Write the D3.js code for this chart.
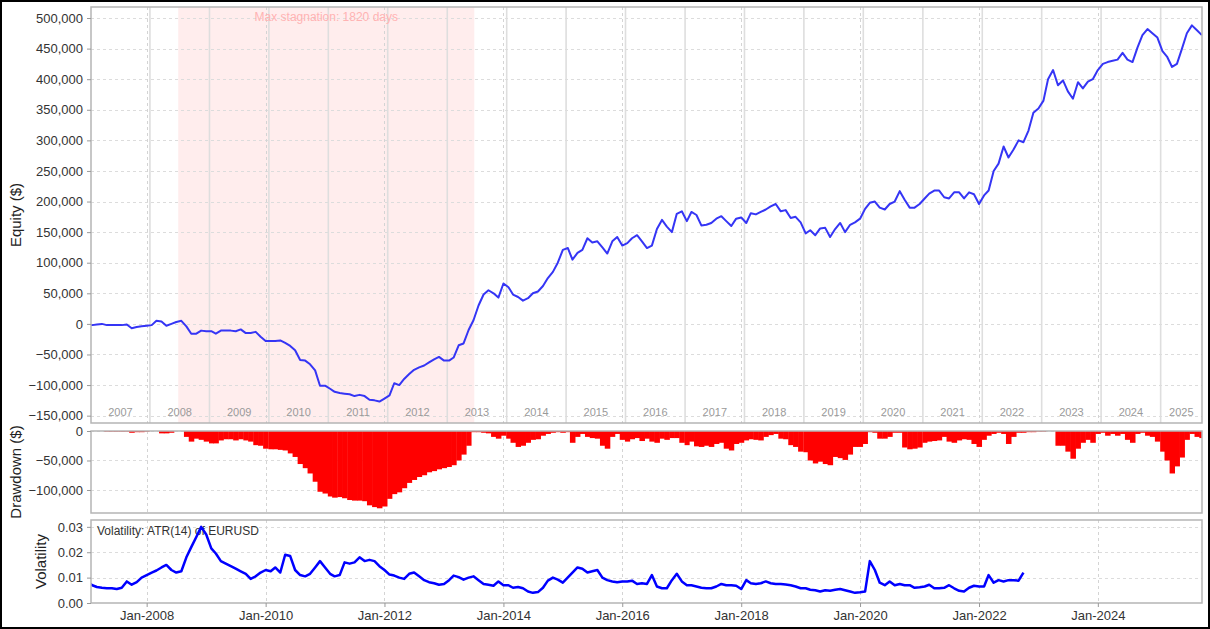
<!DOCTYPE html>
<html>
<head>
<meta charset="utf-8">
<script src="https://cdn.jsdelivr.net/npm/d3@7"></script>
<style>
body { margin: 0; background: #fff; }
svg { display: block; font-family: "Liberation Sans", Arial, sans-serif; }
</style>
</head>
<body>
<svg id="chart" width="1210" height="629"></svg>
<script>

// ---- data, monthly values starting Jan 2007 ----
// equity in thousands of $
var equityK = [
  -2, -2, -1, 0, -2, -2, -2, -2, -1, -7, -5, -4,
  -3, -2, 5, 4, -3, 0, 3, 5, -4, -16, -16, -11,
  -12, -12, -16, -11, -11, -11, -12, -9, -15, -15, -13, -21,
  -28, -28, -28, -27, -31, -36, -43, -59, -60, -66, -76, -101,
  -101, -106, -111, -113, -114, -115, -118, -116, -118, -124, -125, -127,
  -122, -117, -97, -100, -90, -82, -75, -71, -68, -63, -58, -54,
  -60, -60, -55, -35, -32, -10, 6, 30, 48, 55, 50, 43,
  66, 60, 48, 44, 38, 42, 50, 53, 62, 75, 85, 100,
  121, 124, 105, 116, 121, 140, 133, 135, 125, 115, 135, 142,
  128, 132, 140, 145, 135, 124, 128, 155, 170, 159, 150, 180,
  184, 168, 183, 178, 161, 162, 165, 172, 176, 168, 160, 172,
  174, 165, 181, 179, 183, 187, 192, 196, 184, 186, 173, 175,
  166, 148, 153, 145, 156, 157, 142, 155, 165, 150, 162, 166,
  172, 188, 198, 200, 190, 187, 196, 200, 217, 203, 190, 190,
  196, 205, 213, 218, 218, 207, 205, 215, 215, 205, 215, 212,
  196, 210, 218, 250, 262, 290, 272, 285, 300, 297, 316, 345,
  352, 365, 400, 415, 390, 398, 380, 368, 395, 385, 396, 400,
  415, 425, 428, 430, 432, 443, 432, 428, 452, 472, 482, 475,
  468, 446, 437, 420, 425, 450, 475, 488, 480, 472
];

// drawdown in thousands of $
var drawdownK = [
  0, 0, 0, 0, -1, -1, -1, -1, -1, -3, -2, -2,
  -1, 0, 0, -4, -4, -3, 0, 0, -10, -18, -13, -15,
  -18, -21, -21, -16, -14, -14, -16, -14, -16, -18, -24, -25,
  -30, -31, -31, -32, -33, -38, -44, -56, -63, -72, -86, -103,
  -106, -111, -113, -112, -114, -117, -118, -118, -119, -126, -129, -131,
  -128, -115, -107, -104, -97, -88, -83, -78, -75, -70, -68, -65,
  -63, -61, -58, -50, -40, -25, -2, -2, -3, -4, -10, -13,
  -8, -13, -20, -27, -25, -20, -15, -14, -8, -5, -3, -2,
  -3, -2, -20, -10, -5, -10, -12, -13, -25, -30, -10, -5,
  -15, -18, -14, -12, -17, -13, -18, -20, -13, -15, -12, -12,
  -20, -24, -18, -26, -27, -25, -27, -22, -20, -30, -33, -22,
  -20, -16, -14, -15, -16, -10, -7, -5, -13, -14, -24, -27,
  -35, -36, -50, -55, -52, -56, -58, -44, -46, -49, -40, -27,
  -27, -22, -2, -3, -13, -13, -10, -3, -3, -28, -31, -30,
  -28, -20, -18, -17, -16, -10, -18, -20, -16, -14, -15, -22,
  -27, -15, -8, -5, -3, -5, -22, -10, -3, -3, -2, -2,
  -1, -1, 0, 0, -25, -25, -35, -47, -30, -20, -15, -20,
  -5, -3, -8, -5, -8, -5, -15, -20, -5, -3, -8, -10,
  -18, -35, -50, -72, -60, -45, -15, -5, -10, -12
];

// ATR(14) of EURUSD, null = no data (gap drawn as a straight segment)
var volatility = [
  .0085, .0070, .0063, .0060, .0058, .0058, .0055, .0060, .0085, .0072, .0082, .0100,
  .0110, .0120, .0128, .0140, .0150, .0130, .0120, .0125, .0180, .0220, .0260, .0300,
  .0270, .0215, .0195, .0165, .0155, .0145, .0135, .0125, .0115, .0095, .0105, .0120,
  .0130, .0125, .0140, .0120, .0190, .0185, .0130, .0110, .0105, .0115, .0140, .0165,
  .0140, .0115, .0105, .0110, .0160, .0155, .0160, .0180, .0165, .0170, .0165, .0145,
  .0130, .0112, .0108, .0100, .0095, .0115, .0120, .0105, .0090, .0082, .0078, .0072,
  .0075, .0090, .0108, .0102, .0092, .0100, .0105, .0090, .0075, .0072, .0068, .0085,
  .0070, .0070, .0060, .0063, .0058, .0045, .0040, .0043, .0060, .0088, .0100, .0092,
  .0080, null, null, .0140, .0135, .0120, .0125, .0130, .0100, .0090, .0085, .0082,
  .0085, .0085, .0088, .0075, .0078, .0075, .0110, .0065, .0058, .0058, .0090, .0115,
  .0085, .0070, .0070, .0065, .0060, .0058, .0058, .0065, .0075, .0070, .0070, .0068,
  .0055, .0090, .0078, .0075, .0078, .0085, .0078, .0075, .0075, .0073, .0070, .0065,
  .0058, .0058, .0052, .0050, .0045, .0050, .0048, .0052, .0055, .0050, .0045, .0040,
  .0042, .0045, .0165, .0130, .0080, .0070, .0085, .0070, .0075, .0070, .0070, .0060,
  .0062, .0065, .0072, .0058, .0058, .0060, .0070, .0058, .0048, .0045, .0060, .0068,
  .0065, .0065, .0110, .0080, .0090, .0085, .0090, .0090, .0088, .0120
];

var years = d3.range(2007, 2026);
var equityTicks = [-150000, -100000, -50000, 0, 50000, 100000, 150000, 200000, 250000, 300000, 350000, 400000, 450000, 500000];
var drawdownTicks = [-100000, -50000, 0];
var volTicks = [0, 0.01, 0.02, 0.03];
var xTickLabels = ["Jan-2008", "Jan-2010", "Jan-2012", "Jan-2014", "Jan-2016", "Jan-2018", "Jan-2020", "Jan-2022", "Jan-2024"];
var stagnation = { from: "2008-07-13", to: "2013-07-06", label: "Max stagnation: 1820 days" };
var volLabel = "Volatility: ATR(14) of EURUSD";

// month i after Jan 2007
function monthDate(i) { return new Date(2007, i, 1); }

var svg = d3.select("#chart");
var L = 91, R = 1202;
var P1 = { top: 7, bottom: 423 }, P2 = { top: 431, bottom: 513 }, P3 = { top: 520, bottom: 603 };

var x = d3.scaleTime()
    .domain([new Date(2007, 0, 24), new Date(2025, 9, 2)])
    .range([L, R]);
var yEq = d3.scaleLinear().domain([-162000, 518000]).range([P1.bottom, P1.top]);
var yDd = d3.scaleLinear().domain([-139000, 0]).range([P2.bottom, P2.top]);
var yVol = d3.scaleLinear().domain([0, 0.0327]).range([P3.bottom, P3.top]);

var parse = d3.timeParse("%Y-%m-%d");
var xTickDates = xTickLabels.map(function(s) { return d3.timeParse("%b-%Y")(s); });

// clip paths for each panel
var defs = svg.append("defs");
[["c1", P1], ["c2", P2], ["c3", P3]].forEach(function(c) {
    defs.append("clipPath").attr("id", c[0]).append("rect")
        .attr("x", L).attr("y", c[1].top).attr("width", R - L).attr("height", c[1].bottom - c[1].top);
});

// ---------- 1. equity panel ----------
var g1 = svg.append("g").attr("clip-path", "url(#c1)");

g1.append("rect")
    .attr("x", x(parse(stagnation.from)))
    .attr("y", P1.top)
    .attr("width", x(parse(stagnation.to)) - x(parse(stagnation.from)))
    .attr("height", P1.bottom - P1.top)
    .attr("fill", "#ffeded");

// horizontal grid
g1.selectAll(".hgrid").data(equityTicks).enter().append("line")
    .attr("x1", L).attr("x2", R)
    .attr("y1", function(d) { return Math.round(yEq(d)) + 0.5; })
    .attr("y2", function(d) { return Math.round(yEq(d)) + 0.5; })
    .attr("stroke", "#dcdcdc").attr("stroke-dasharray", "3,3");

// vertical grid (shared x ticks)
function vgrid(g, p) {
    g.selectAll(".vgrid").data(xTickDates).enter().append("line")
        .attr("x1", function(d) { return Math.round(x(d)) + 0.5; })
        .attr("x2", function(d) { return Math.round(x(d)) + 0.5; })
        .attr("y1", p.top).attr("y2", p.bottom)
        .attr("stroke", "#d4d4d4").attr("stroke-dasharray", "3,3");
}
vgrid(g1, P1);

// year separators + labels
function yearX(y) { return x(new Date(y, 0, 21)); }
g1.selectAll(".yline").data(years.slice(1)).enter().append("line")
    .attr("x1", function(d) { return yearX(d); })
    .attr("x2", function(d) { return yearX(d); })
    .attr("y1", P1.top).attr("y2", P1.bottom)
    .attr("stroke", "#dedede").attr("stroke-width", 1.6);

g1.selectAll(".ylabel").data(years).enter().append("text")
    .attr("x", function(d) {
        var a = Math.max(yearX(d), L), b = Math.min(yearX(d + 1), R);
        return (a + b) / 2;
    })
    .attr("y", 416)
    .attr("text-anchor", "middle")
    .attr("font-size", 11)
    .attr("fill", "#9a9a9a")
    .text(function(d) { return d; });

g1.append("text")
    .attr("x", (x(parse(stagnation.from)) + x(parse(stagnation.to))) / 2)
    .attr("y", 21)
    .attr("text-anchor", "middle")
    .attr("font-size", 12)
    .attr("fill", "#ffb3b3")
    .text(stagnation.label);

var eqLine = d3.line()
    .x(function(d, i) { return x(monthDate(i)); })
    .y(function(d) { return yEq(d * 1000); });
g1.append("path")
    .datum(equityK)
    .attr("d", eqLine)
    .attr("fill", "none")
    .attr("stroke", "#3535f5")
    .attr("stroke-width", 2)
    .attr("stroke-linejoin", "round");

// ---------- 2. drawdown panel ----------
var g2 = svg.append("g").attr("clip-path", "url(#c2)");
g2.selectAll(".hgrid").data(drawdownTicks).enter().append("line")
    .attr("x1", L).attr("x2", R)
    .attr("y1", function(d) { return Math.round(yDd(d)) + 0.5; })
    .attr("y2", function(d) { return Math.round(yDd(d)) + 0.5; })
    .attr("stroke", "#dcdcdc").attr("stroke-dasharray", "3,3");
vgrid(g2, P2);

g2.selectAll(".bar").data(drawdownK).enter().append("rect")
    .attr("x", function(d, i) { return x(monthDate(i)) - (x(monthDate(i + 1)) - x(monthDate(i))) / 2; })
    .attr("width", function(d, i) { return x(monthDate(i + 1)) - x(monthDate(i)) + 0.5; })
    .attr("y", yDd(0))
    .attr("height", function(d) { return yDd(d * 1000) - yDd(0); })
    .attr("fill", "#ff0000");

// ---------- 3. volatility panel ----------
var g3 = svg.append("g").attr("clip-path", "url(#c3)");
g3.selectAll(".hgrid").data(volTicks).enter().append("line")
    .attr("x1", L).attr("x2", R)
    .attr("y1", function(d) { return Math.round(yVol(d)) + 0.5; })
    .attr("y2", function(d) { return Math.round(yVol(d)) + 0.5; })
    .attr("stroke", "#dcdcdc").attr("stroke-dasharray", "3,3");
vgrid(g3, P3);

g3.append("text")
    .attr("x", 97).attr("y", 535)
    .attr("font-size", 12)
    .attr("fill", "#333")
    .text(volLabel);

var volPts = volatility.map(function(v, i) { return { date: monthDate(i), v: v }; })
    .filter(function(d) { return d.v !== null; });
g3.append("path")
    .datum(volPts)
    .attr("d", d3.line().x(function(d) { return x(d.date); }).y(function(d) { return yVol(d.v); }))
    .attr("fill", "none")
    .attr("stroke", "#0000ff")
    .attr("stroke-width", 2.5)
    .attr("stroke-linejoin", "round");

// ---------- panel borders + axes ----------
[P1, P2, P3].forEach(function(p) {
    svg.append("rect")
        .attr("x", L).attr("y", p.top)
        .attr("width", R - L).attr("height", p.bottom - p.top)
        .attr("fill", "none")
        .attr("stroke", "#b5b5b5")
        .attr("stroke-width", 1.5);
});

function styleAxis(g) {
    g.select(".domain").remove();
    g.selectAll(".tick line").attr("stroke", "#999");
    g.selectAll(".tick text").attr("fill", "#333").attr("font-size", 13)
        .attr("font-family", "Liberation Sans, Arial, sans-serif");
}

svg.append("g").attr("transform", "translate(" + L + ",0)")
    .call(d3.axisLeft(yEq).tickValues(equityTicks).tickFormat(d3.format(",")).tickSize(4).tickPadding(4))
    .call(styleAxis);
svg.append("g").attr("transform", "translate(" + L + ",0)")
    .call(d3.axisLeft(yDd).tickValues(drawdownTicks).tickFormat(d3.format(",")).tickSize(4).tickPadding(4))
    .call(styleAxis);
svg.append("g").attr("transform", "translate(" + L + ",0)")
    .call(d3.axisLeft(yVol).tickValues(volTicks).tickFormat(d3.format(".2f")).tickSize(4).tickPadding(4))
    .call(styleAxis);
svg.append("g").attr("transform", "translate(0," + P3.bottom + ")")
    .call(d3.axisBottom(x).tickValues(xTickDates).tickFormat(d3.timeFormat("%b-%Y")).tickSize(4).tickPadding(4))
    .call(styleAxis);

// axis titles
function yTitle(txt, tx, ty) {
    svg.append("text")
        .attr("transform", "translate(" + tx + "," + ty + ") rotate(-90)")
        .attr("text-anchor", "middle")
        .attr("font-size", 15)
        .attr("fill", "#222")
        .text(txt);
}
yTitle("Equity ($)", 21, (P1.top + P1.bottom) / 2);
yTitle("Drawdown ($)", 21, (P2.top + P2.bottom) / 2);
yTitle("Volatility", 46, (P3.top + P3.bottom) / 2);

// outer frame
svg.append("rect")
    .attr("x", 1).attr("y", 1).attr("width", 1208).attr("height", 627)
    .attr("fill", "none").attr("stroke", "#000").attr("stroke-width", 2);

</script>
</body>
</html>
